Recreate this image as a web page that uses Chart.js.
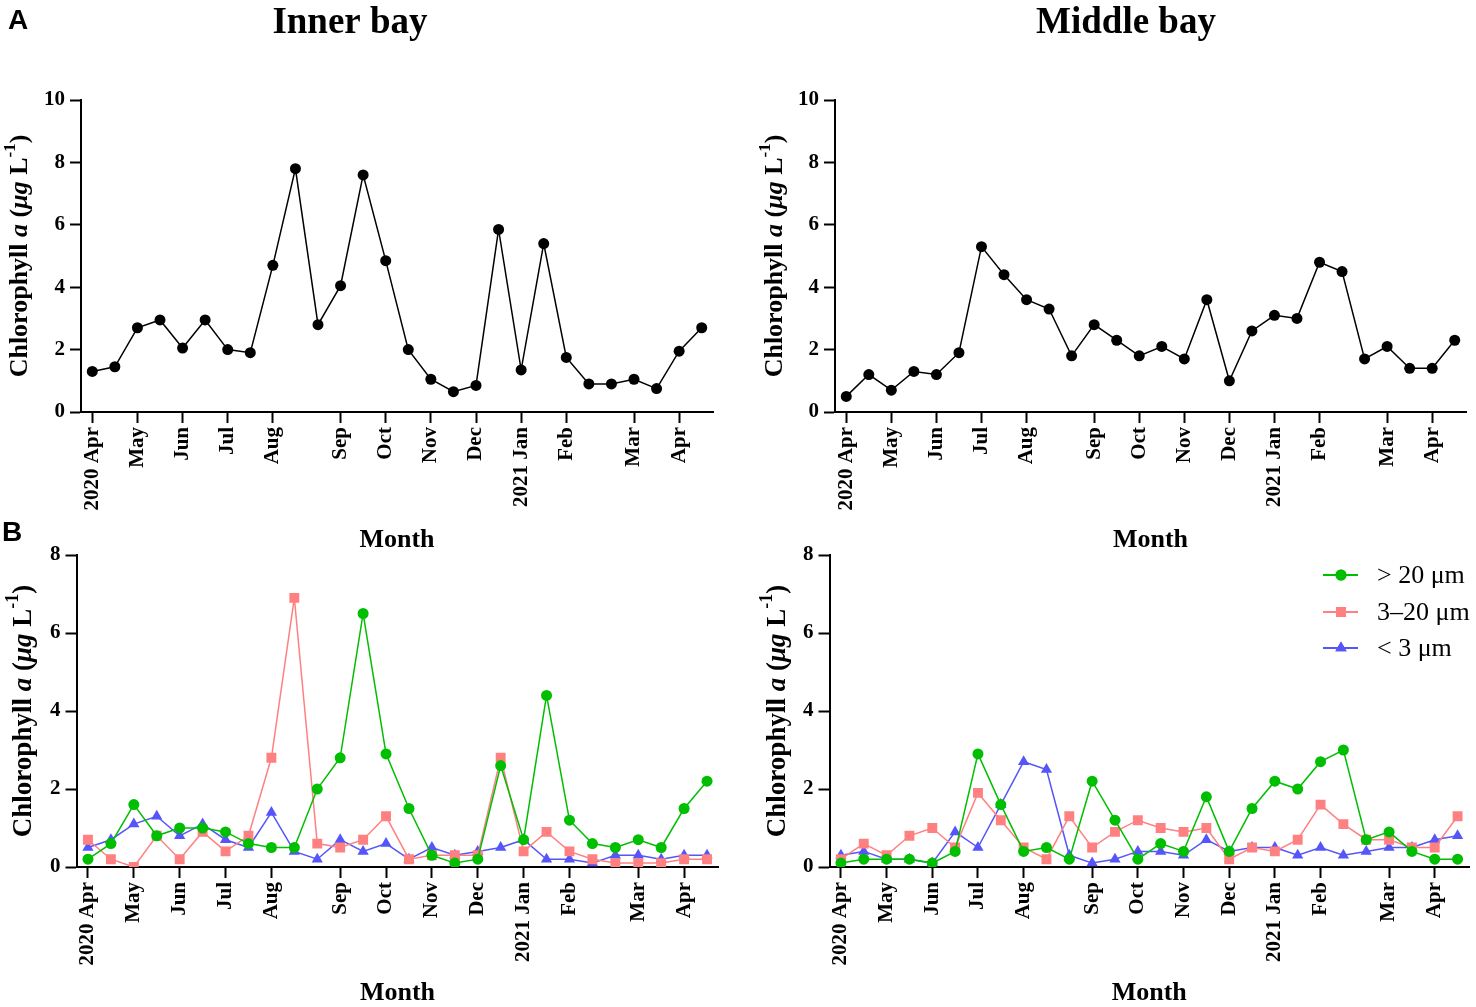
<!DOCTYPE html>
<html><head><meta charset="utf-8">
<script src="https://cdn.jsdelivr.net/npm/chart.js@4"></script>
<style>
body{margin:0;background:#fff;width:1476px;height:1007px;overflow:hidden;position:relative}
canvas{position:absolute}
</style></head><body>
<canvas id="c1" width="738" height="557" style="left:0;top:0;width:738px;height:557px"></canvas>
<canvas id="c2" width="738" height="557" style="left:738px;top:0;width:738px;height:557px"></canvas>
<canvas id="c3" width="738" height="505" style="left:0;top:505px;width:738px;height:505px"></canvas>
<canvas id="c4" width="738" height="505" style="left:738px;top:505px;width:738px;height:505px"></canvas>
<script>
// ---- data ----
const months = ['2020 Apr','','May','','Jun','','Jul','','Aug','','','Sep','','Oct','','Nov','','Dec','','2021 Jan','','Feb','','','Mar','','Apr',''];
const innerTotal  = [1.3,1.45,2.7,2.95,2.05,2.95,2.0,1.9,4.7,7.8,2.8,4.05,7.6,4.85,2.0,1.05,0.65,0.85,5.85,1.35,5.4,1.75,0.9,0.9,1.05,0.75,1.95,2.7];
const middleTotal = [0.5,1.2,0.7,1.3,1.2,1.9,5.3,4.4,3.6,3.3,1.8,2.8,2.3,1.8,2.1,1.7,3.6,1.0,2.6,3.1,3.0,4.8,4.5,1.7,2.1,1.4,1.4,2.3];
const innerLarge  = [0.2,0.6,1.6,0.8,1.0,1.0,0.9,0.6,0.5,0.5,2.0,2.8,6.5,2.9,1.5,0.3,0.1,0.2,2.6,0.7,4.4,1.2,0.6,0.5,0.7,0.5,1.5,2.2];
const innerMid    = [0.7,0.2,0.0,0.8,0.2,0.9,0.4,0.8,2.8,6.9,0.6,0.5,0.7,1.3,0.2,0.3,0.3,0.3,2.8,0.4,0.9,0.4,0.2,0.1,0.1,0.1,0.2,0.2];
const innerSmall  = [0.5,0.7,1.1,1.3,0.8,1.1,0.7,0.5,1.4,0.4,0.2,0.7,0.4,0.6,0.2,0.5,0.3,0.4,0.5,0.7,0.2,0.2,0.1,0.3,0.3,0.2,0.3,0.3];
const middleLarge = [0.1,0.2,0.2,0.2,0.1,0.4,2.9,1.6,0.4,0.5,0.2,2.2,1.2,0.2,0.6,0.4,1.8,0.4,1.5,2.2,2.0,2.7,3.0,0.7,0.9,0.4,0.2,0.2];
const middleMid   = [0.2,0.6,0.3,0.8,1.0,0.5,1.9,1.2,0.5,0.2,1.3,0.5,0.9,1.2,1.0,0.9,1.0,0.2,0.5,0.4,0.7,1.6,1.1,0.7,0.7,0.5,0.5,1.3];
const middleSmall = [0.3,0.4,0.2,0.2,0.1,0.9,0.5,1.6,2.7,2.5,0.3,0.1,0.2,0.4,0.4,0.3,0.7,0.4,0.5,0.5,0.3,0.5,0.3,0.4,0.5,0.5,0.7,0.8];
const seriesNames = ['> 20 \u03bcm','3\u201320 \u03bcm','< 3 \u03bcm'];
const panelTitles = ['Inner bay','Middle bay'];

// ---- styling ----
const SERIF = '"Liberation Serif", "Times New Roman", serif';
const GREEN = 'rgb(0,190,0)', PINK = 'rgb(255,128,128)', BLUE = 'rgb(85,85,250)';

const decor = {
  id: 'decor',
  afterDraw(chart, args, o) {
    const ctx = chart.ctx, ca = chart.chartArea;
    ctx.save();
    ctx.fillStyle = '#000';
    if (o.title) {
      ctx.font = 'bold 37px ' + SERIF;
      ctx.textAlign = 'center'; ctx.textBaseline = 'alphabetic';
      ctx.fillText(o.title, o.titleX, 33);
    }
    if (o.letter) {
      ctx.font = 'bold 28px "Liberation Sans", Arial, sans-serif';
      ctx.textAlign = 'left'; ctx.textBaseline = 'alphabetic';
      ctx.fillText(o.letter, o.letterX, o.letterY);
    }
    // y-axis title with mixed styles
    const fs = o.yFont;
    const segs = [
      ['Chlorophyll ', 'bold ' + fs + 'px ' + SERIF, 0],
      ['a', 'italic bold ' + fs + 'px ' + SERIF, 0],
      [' (', 'bold ' + fs + 'px ' + SERIF, 0],
      ['\u03bcg', 'italic bold ' + fs + 'px ' + SERIF, 0],
      [' L', 'bold ' + fs + 'px ' + SERIF, 0],
      ['-1', 'bold ' + Math.round(fs * 0.65) + 'px ' + SERIF, -fs * 0.38],
      [')', 'bold ' + fs + 'px ' + SERIF, 0]
    ];
    let total = 0;
    segs.forEach(s => { ctx.font = s[1]; s.w = ctx.measureText(s[0]).width; total += s.w; });
    ctx.translate(o.yTitleX, (ca.top + ca.bottom) / 2);
    ctx.rotate(-Math.PI / 2);
    ctx.textAlign = 'left'; ctx.textBaseline = 'middle';
    let x = -total / 2;
    segs.forEach(s => { ctx.font = s[1]; ctx.fillText(s[0], x, s[2]); x += s.w; });
    ctx.restore();
    // legend
    if (o.legend) {
      ctx.save();
      chart.data.datasets.forEach((ds, i) => {
        const y = o.legendY[i];
        ctx.strokeStyle = ds.borderColor; ctx.lineWidth = 2;
        ctx.beginPath(); ctx.moveTo(o.legendX, y); ctx.lineTo(o.legendX + 35, y); ctx.stroke();
        ctx.fillStyle = ds.borderColor;
        Chart.helpers.drawPoint(ctx, {pointStyle: ds.pointStyle, rotation: 0, borderWidth: 0, radius: ds.pointRadius}, o.legendX + 18, y);
        ctx.fill();
        ctx.fillStyle = '#000';
        ctx.font = '26px ' + SERIF; ctx.textAlign = 'left'; ctx.textBaseline = 'middle';
        ctx.fillText(ds.label, o.legendX + 54, y + 1);
      });
      ctx.restore();
    }
  }
};
Chart.register(decor);

function scales(ymax, yWidth, xHeight) {
  return {
    x: {
      type: 'category', offset: true,
      border: {display: true, color: '#000', width: 2},
      grid: {display: true, drawOnChartArea: false, drawTicks: true, tickLength: 11, tickWidth: 2,
             tickColor: c => (c.tick && c.tick.label) ? '#000' : 'rgba(0,0,0,0)'},
      ticks: {autoSkip: false, maxRotation: 90, minRotation: 90, padding: 4, color: '#000',
              font: {family: SERIF, size: 21, weight: 'bold'}},
      title: {display: true, text: 'Month', color: '#000', padding: {top: 0, bottom: 1},
              font: {family: SERIF, size: 26, weight: 'bold'}},
      afterFit: s => { s.height = xHeight; s.paddingLeft = 0; s.paddingRight = 0; }
    },
    y: {
      min: 0, max: ymax,
      border: {display: true, color: '#000', width: 2},
      grid: {display: true, drawOnChartArea: false, drawTicks: true, tickLength: 11, tickWidth: 2, tickColor: '#000'},
      ticks: {stepSize: 2, padding: 5, color: '#000', font: {family: SERIF, size: 21, weight: 'bold'}},
      afterFit: s => { s.width = yWidth; }
    }
  };
}

function totalChart(id, data, title, yWidth, padRight, decorOpts) {
  return new Chart(document.getElementById(id), {
    type: 'line',
    data: {labels: months, datasets: [{label: title, data: data, borderColor: '#000', backgroundColor: '#000',
      borderWidth: 1.5, pointRadius: 5.5, pointBackgroundColor: '#000', pointBorderWidth: 0, tension: 0}]},
    options: {
      responsive: false, animation: false, devicePixelRatio: 1,
      layout: {padding: {top: 100, left: 0, right: padRight, bottom: 0}},
      plugins: {legend: {display: false}, tooltip: {enabled: false}, decor: decorOpts},
      scales: scales(10, yWidth, 145)
    }
  });
}

function sizeChart(id, d1, d2, d3, yWidth, padRight, decorOpts) {
  const mk = (label, data, color, style, r) => ({label, data, borderColor: color, backgroundColor: color,
    pointBackgroundColor: color, pointBorderWidth: 0, borderWidth: 1.5, pointRadius: r, pointStyle: style, tension: 0});
  return new Chart(document.getElementById(id), {
    type: 'line',
    data: {labels: months, datasets: [
      mk(seriesNames[0], d1, GREEN, 'circle', 5.5),
      mk(seriesNames[1], d2, PINK, 'rect', 7),
      mk(seriesNames[2], d3, BLUE, 'triangle', 6.5)
    ]},
    options: {
      responsive: false, animation: false, devicePixelRatio: 1,
      layout: {padding: {top: 50, left: 0, right: padRight, bottom: 0}},
      plugins: {legend: {display: false}, tooltip: {enabled: false}, decor: decorOpts},
      scales: scales(8, yWidth, 143)
    }
  });
}

totalChart('c1', innerTotal, panelTitles[0], 81, 25,
  {title: panelTitles[0], titleX: 350, letter: 'A', letterX: 8, letterY: 29, yTitleX: 20, yFont: 26});
totalChart('c2', middleTotal, panelTitles[1], 97, 10,
  {title: panelTitles[1], titleX: 388, yTitleX: 37, yFont: 26});
sizeChart('c3', innerLarge, innerMid, innerSmall, 76.5, 19.5,
  {letter: 'B', letterX: 2, letterY: 36, yTitleX: 24, yFont: 27});
sizeChart('c4', middleLarge, middleMid, middleSmall, 91.5, 4.5,
  {yTitleX: 40, yFont: 27, legend: true, legendX: 585, legendY: [70, 107, 143]});
</script>
</body></html>
